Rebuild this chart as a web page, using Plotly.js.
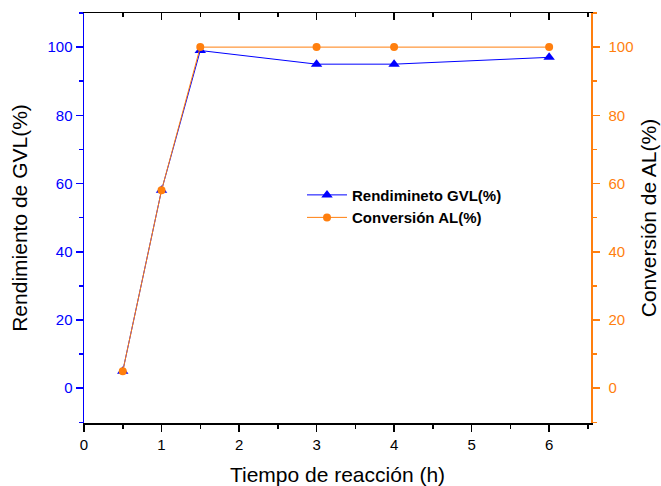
<!DOCTYPE html>
<html>
<head>
<meta charset="utf-8">
<script src="https://cdn.plot.ly/plotly-3.0.1.min.js"></script>
<style>body{margin:0;padding:0;background:#fff;} #chart{width:661px;height:486px;}</style>
</head>
<body>
<div id="chart"></div>
<script>
const tiempo = [0.5, 1, 1.5, 3, 4, 6];
const rendimientoGVL = [5, 58, 99, 95, 95, 97];
const conversionAL = [5, 58, 100, 100, 100, 100];
const xTicks = [0, 1, 2, 3, 4, 5, 6];
const yTicks = [0, 20, 40, 60, 80, 100];

const BLUE = '#0000ff';
const ORANGE = '#ff7f0e';
const FONT = 'Liberation Sans, Arial, sans-serif';

const traces = [
  {
    x: tiempo, y: rendimientoGVL, type: 'scatter', mode: 'lines+markers',
    name: '<b>Rendimineto GVL(%)</b>',
    line: {color: BLUE, width: 1},
    marker: {symbol: 'triangle-up', size: 10, color: BLUE},
    xaxis: 'x', yaxis: 'y'
  },
  {
    x: tiempo, y: conversionAL, type: 'scatter', mode: 'lines+markers',
    name: '<b>Conversión AL(%)</b>',
    line: {color: ORANGE, width: 1},
    marker: {symbol: 'circle', size: 8, color: ORANGE},
    xaxis: 'x', yaxis: 'y2'
  },
  {
    x: [tiempo[0]], y: [conversionAL[0]], type: 'scatter', mode: 'none',
    showlegend: false, hoverinfo: 'skip', xaxis: 'x2', yaxis: 'y'
  }
];

const yRange = [-10.2, 110];
const xRange = [0, 6.54];

const layout = {
  width: 661, height: 486,
  margin: {l: 84, r: 70, t: 13, b: 63},
  paper_bgcolor: '#fff', plot_bgcolor: '#fff',
  font: {family: FONT, size: 15, color: '#000'},
  showlegend: true,
  legend: {x: 0.43, y: 0.596, xanchor: 'left', yanchor: 'top', bgcolor: 'rgba(0,0,0,0)',
           font: {family: FONT, size: 15, color: '#000'}, tracegroupgap: 0, itemwidth: 40},
  xaxis: {
    range: xRange, tickvals: xTicks, ticktext: xTicks.map(String),
    showline: true, linecolor: '#000', linewidth: 1.5,
    ticks: 'outside', ticklen: 7, tickwidth: 1.5, tickcolor: '#000',
    minor: {dtick: 0.5, tick0: 0, ticks: 'outside', ticklen: 4, tickwidth: 1.5, tickcolor: '#000'},
    showgrid: false, zeroline: false,
    tickfont: {family: FONT, size: 15, color: '#000'},
    title: {text: 'Tiempo de reacción (h)', font: {family: FONT, size: 21, color: '#000'}, standoff: 17}
  },
  xaxis2: {
    overlaying: 'x', side: 'top', matches: 'x', range: xRange,
    tickvals: xTicks, showticklabels: false,
    showline: true, linecolor: '#000', linewidth: 1.5,
    ticks: 'inside', ticklen: 7, tickwidth: 1.5, tickcolor: '#000',
    minor: {dtick: 0.5, tick0: 0, ticks: 'inside', ticklen: 4, tickwidth: 1.5, tickcolor: '#000'},
    showgrid: false, zeroline: false
  },
  yaxis: {
    range: yRange, tickvals: yTicks, ticktext: yTicks.map(String),
    showline: true, linecolor: BLUE, linewidth: 1.5,
    ticks: 'outside', ticklen: 7, tickwidth: 1.5, tickcolor: BLUE,
    minor: {dtick: 10, tick0: 0, ticks: 'outside', ticklen: 4, tickwidth: 1.5, tickcolor: BLUE},
    showgrid: false, zeroline: false,
    tickfont: {family: FONT, size: 15, color: BLUE},
    title: {text: 'Rendimiento de GVL(%)', font: {family: FONT, size: 21, color: '#000'}, standoff: 14}
  },
  yaxis2: {
    overlaying: 'y', side: 'right', range: yRange, tickvals: yTicks, ticktext: yTicks.map(String),
    showline: true, linecolor: ORANGE, linewidth: 1.5,
    ticks: 'outside', ticklen: 7, tickwidth: 1.5, tickcolor: ORANGE,
    minor: {dtick: 10, tick0: 0, ticks: 'outside', ticklen: 4, tickwidth: 1.5, tickcolor: ORANGE},
    showgrid: false, zeroline: false,
    ticklabelstandoff: 6,
    tickfont: {family: FONT, size: 15, color: ORANGE},
    title: {text: 'Conversión de AL(%)', font: {family: FONT, size: 21, color: '#000'}, standoff: 9}
  }
};

Plotly.newPlot('chart', traces, layout, {displayModeBar: false, staticPlot: true});
</script>
</body>
</html>
